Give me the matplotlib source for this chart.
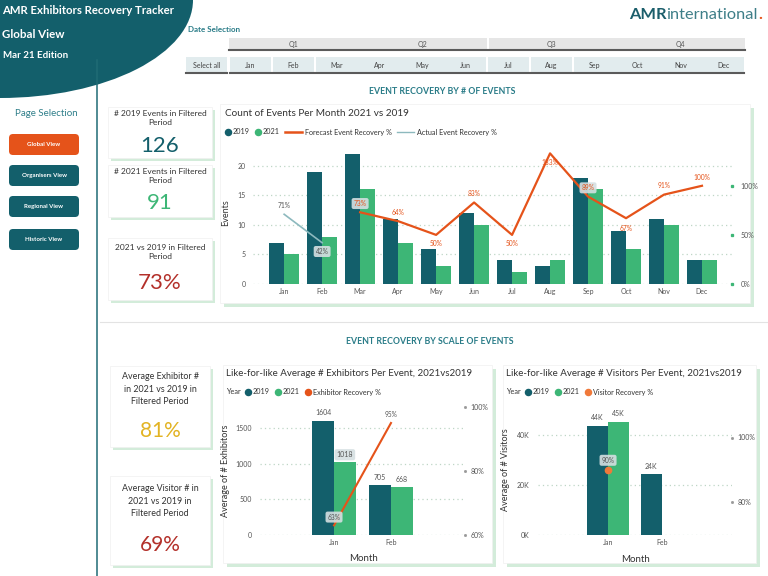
import numpy as np
import matplotlib
matplotlib.use('Agg')
import matplotlib.pyplot as plt
from matplotlib.patches import Rectangle, FancyBboxPatch, Ellipse

plt.rcParams['font.family'] = ['Lato', 'DejaVu Sans']

# --- datos ---
months = ['Jan', 'Feb', 'Mar', 'Apr', 'May', 'Jun', 'Jul', 'Aug', 'Sep', 'Oct', 'Nov', 'Dec']
quarters = ['Q1', 'Q2', 'Q3', 'Q4']
events_2019 = [7, 19, 22, 11, 6, 12, 4, 3, 18, 9, 11, 4]
events_2021 = [5, 8, 16, 7, 3, 10, 2, 4, 16, 6, 10, 4]
actual_months = ['Jan', 'Feb']
actual_recovery = [0.71, 0.42]
forecast_months = ['Mar', 'Apr', 'May', 'Jun', 'Jul', 'Aug', 'Sep', 'Oct', 'Nov', 'Dec']
forecast_recovery = [0.73, 0.64, 0.50, 0.83, 0.50, 1.33, 0.89, 0.67, 0.91, 1.00]
kpi_recovery = 0.73
kpi_exhibitor = 0.81
kpi_visitor = 0.69

scale_months = ['Jan', 'Feb']
exhibitors_2019 = [1604, 705]
exhibitors_2021 = [1018, 668]
exhibitor_recovery = [0.63, 0.95]
visitors_2019 = [43800, 24300]
visitors_2021 = [45400, np.nan]
visitor_recovery_months = ['Jan']
visitor_recovery = [0.90]

pages = ['Global View', 'Organisers View', 'Regional View', 'Historic View']

# --- colores ---
TEAL = '#135F6B'
GREEN = '#3DB676'
ORANGE = '#E5531A'
RED = '#B3302A'
GOLD = '#E2B323'
HEAD = '#2A7C88'
GRID = '#BFD6C6'
TXT = '#333333'
SHADOW = '#D3ECDA'
LBLBOX = dict(boxstyle='round,pad=0.3', fc='#D5DFE1', ec='none', alpha=0.9)

fig = plt.figure(figsize=(7.68, 5.76), dpi=100)
bg = fig.add_axes([0, 0, 1, 1])
bg.set_xlim(0, 768)
bg.set_ylim(576, 0)
bg.axis('off')
renderer = fig.canvas.get_renderer()


def px_axes(left, top, right, bottom):
    a = fig.add_axes([left / 768, 1 - bottom / 576, (right - left) / 768, (bottom - top) / 576])
    a.patch.set_alpha(0)
    return a


def panel(x0, y0, x1, y1, off=4):
    bg.add_patch(Rectangle((x0 + off, y0 + off), x1 - x0, y1 - y0, fc=SHADOW, ec='none'))
    bg.add_patch(Rectangle((x0, y0), x1 - x0, y1 - y0, fc='white', ec='#F0F0F0', lw=0.5))


def legend_row(x, y, items, fs=5.2):
    for kind, color, label in items:
        if kind == 'dot':
            bg.plot(x + 3, y, 'o', ms=4.4, color=color)
            x += 8
        elif kind == 'line':
            bg.plot([x, x + 17], [y, y], color=color, lw=1.8 if color == ORANGE else 1.0)
            x += 20
        t = bg.text(x, y, label, fontsize=fs, va='center', ha='left', color=TXT)
        x += t.get_window_extent(renderer).width + 5


def style_axes(a, size=5):
    for s in a.spines.values():
        s.set_visible(False)
    a.tick_params(axis='both', length=0, labelsize=size, colors='#555555')


# --- cabecera / barra lateral ---
bg.add_patch(Ellipse((0, 0), 386, 196, fc=TEAL, ec='none'))
bg.plot([97, 97], [60, 576], color='#1F6B75', lw=1.1)
bg.text(2, 10, 'AMR Exhibitors Recovery Tracker', fontsize=8.2, fontweight='bold', color='white', va='center')
bg.text(2, 35, 'Global View', fontsize=8.3, fontweight='bold', color='white', va='center')
bg.text(3, 55, 'Mar 21 Edition', fontsize=7, fontweight='bold', color='white', va='center')

bg.text(46, 113, 'Page Selection', fontsize=7, color='#2F7F8A', ha='center', va='center')
btn_top = [132, 163, 194, 227]
for i, (name, yt) in enumerate(zip(pages, btn_top)):
    bg.add_patch(FancyBboxPatch((9, yt + 2), 70, 21, boxstyle='round,pad=0,rounding_size=4',
                                fc=ORANGE if i == 0 else TEAL, ec='none'))
    bg.text(44, yt + 12.5, name, fontsize=4.4, fontweight='bold', color='white', ha='center', va='center')

# logo
t = bg.text(629, 15, 'AMR', fontsize=11.8, fontweight='bold', color='#1B5E6B', va='center')
xx = 629 + t.get_window_extent(renderer).width
t = bg.text(xx, 15, 'international', fontsize=11.8, color='#3E7E88', va='center')
xx += t.get_window_extent(renderer).width
bg.text(xx, 15, '.', fontsize=11.8, fontweight='bold', color=ORANGE, va='center')

# selector de fechas
bg.text(188, 29, 'Date Selection', fontsize=5.8, fontweight='bold', color=HEAD, va='center')
cell = 43
mx0 = 229
for q0, q1, qs in [(0, 6, quarters[:2]), (6, 12, quarters[2:])]:
    xa, xb = mx0 + q0 * cell + (2 if q0 else 0), mx0 + q1 * cell
    bg.add_patch(Rectangle((xa, 38), xb - xa, 11, fc='#E6E6E6', ec='none'))
    bg.plot([xa, xb], [50, 50], color='#5A5A5A', lw=1.5)
    for k, q in enumerate(qs):
        bg.text(mx0 + (q0 + 1.5 + 3 * k) * cell, 44.5, q, fontsize=5, color='#555555',
                ha='center', va='center_baseline')
bg.add_patch(Rectangle((186, 57), 41, 15, fc='#E2ECEE', ec='none'))
bg.plot([186, 227], [73, 73], color='#5A5A5A', lw=1.5)
bg.text(206.5, 65, 'Select all', fontsize=5, color='#444444', ha='center', va='center_baseline')
for g in [[0], [1], [2, 3, 4, 5], [6], [7], [8, 9, 10, 11]]:
    xa, xb = mx0 + g[0] * cell + 1, mx0 + (g[-1] + 1) * cell - 1
    bg.add_patch(Rectangle((xa, 57), xb - xa, 15, fc='#E2ECEE', ec='none'))
    bg.plot([xa, xb], [73, 73], color='#5A5A5A', lw=1.5)
for i, m in enumerate(months):
    bg.text(mx0 + (i + 0.5) * cell, 65, m, fontsize=5, color='#444444', ha='center', va='center_baseline')

# titulos de seccion
bg.text(442, 92, 'EVENT RECOVERY BY # OF EVENTS', fontsize=6.3, fontweight='bold', color=HEAD, ha='center', va='center')
bg.text(430, 342, 'EVENT RECOVERY BY SCALE OF EVENTS', fontsize=6.3, fontweight='bold', color=HEAD, ha='center', va='center')
bg.plot([100, 768], [322, 322], color='#E3E3E3', lw=0.8)

# tarjetas KPI
kpis = [
    ((108, 107, 212, 158), '# 2019 Events in Filtered\nPeriod', 118, f'{sum(events_2019)}', TEAL, 146, 16),
    ((108, 165, 212, 217), '# 2021 Events in Filtered\nPeriod', 176, f'{sum(events_2021)}', GREEN, 203, 16),
    ((108, 238, 212, 300), '2021 vs 2019 in Filtered\nPeriod', 252, f'{kpi_recovery:.0%}', RED, 283, 16),
    ((110, 366, 210, 447), 'Average Exhibitor #\nin 2021 vs 2019 in\nFiltered Period', 389, f'{kpi_exhibitor:.0%}', GOLD, 431, 15),
    ((110, 476, 210, 565), 'Average Visitor # in\n2021 vs 2019 in\nFiltered Period', 501, f'{kpi_visitor:.0%}', RED, 545, 15),
]
for (x0, y0, x1, y1), title, ty, val, col, vy, vs in kpis:
    panel(x0, y0, x1, y1, off=3)
    fs = 6.0 if title.count('\n') == 1 else 6.4
    bg.text((x0 + x1) / 2, ty, title, fontsize=fs, color=TXT, ha='center', va='center', linespacing=1.45)
    bg.text((x0 + x1) / 2, vy, val, fontsize=vs, color=col, ha='center', va='center')

# --- grafico principal ---
panel(220, 104, 750, 303)
bg.text(225, 114, 'Count of Events Per Month 2021 vs 2019', fontsize=7.2, color=TXT, va='center')
legend_row(225, 132, [('dot', TEAL, '2019'), ('dot', GREEN, '2021'),
                      ('line', ORANGE, 'Forecast Event Recovery %'),
                      ('line', '#8DB9BE', 'Actual Event Recovery %')])

ax = px_axes(253, 142, 732, 284)
x = np.arange(len(months))
ax.bar(x - 0.2, events_2019, 0.4, color=TEAL, zorder=2)
ax.bar(x + 0.2, events_2021, 0.4, color=GREEN, zorder=2)
ax.set_xlim(-0.82, 11.79)
ax.set_ylim(0, 24)
ax.set_yticks([0, 5, 10, 15, 20])
ax.set_xticks(x)
ax.set_xticklabels(months)
ax.yaxis.grid(True, linestyle=(0, (1, 2.5)), color=GRID, lw=0.9)
ax.set_axisbelow(True)
style_axes(ax)
ax.tick_params(axis='y', pad=5)
ax.tick_params(axis='x', pad=3)
ax.set_ylabel('Events', fontsize=6.5, color=TXT)
ax.yaxis.set_label_coords(-0.048, 0.5)

ax2 = ax.twinx()
ax2.patch.set_alpha(0)
fx = [months.index(m) for m in forecast_months]
axx = [months.index(m) for m in actual_months]
ax2.plot(fx, forecast_recovery, color=ORANGE, lw=1.6, zorder=3)
ax2.plot(axx, actual_recovery, color='#8DB9BE', lw=1.2, zorder=3)
fpos = [1, 1, -1, 1, -1, -1.1, 1, -1.2, 1, 1]
for xi, v, p in zip(fx, forecast_recovery, fpos):
    t = ax2.annotate(f'{v:.0%}', (xi, v), xytext=(0, 6.3 * p), textcoords='offset points',
                     ha='center', va='center', fontsize=4.8, color=ORANGE)
    if xi in (2, 8):
        t.set_bbox(LBLBOX)
for xi, v, p in zip(axx, actual_recovery, [1, -1]):
    t = ax2.annotate(f'{v:.0%}', (xi, v), xytext=(0, 6.3 * p), textcoords='offset points',
                     ha='center', va='center', fontsize=4.8, color='#555555')
    if p < 0:
        t.set_bbox(LBLBOX)
ax2.set_ylim(0, 24 / 16.6)
ax2.set_yticks([0, 0.5, 1.0])
ax2.set_yticklabels(['0%', '50%', '100%'])
style_axes(ax2)
ax2.tick_params(axis='y', pad=6)
ax2.plot([1, 1, 1], [0, 0.5, 1.0], 's', ms=1.4, color=GREEN, transform=ax2.get_yaxis_transform(), clip_on=False)

# --- expositores ---
panel(223, 365, 492, 563)
bg.text(226, 374, 'Like-for-like Average # Exhibitors Per Event, 2021vs2019', fontsize=7.0, color=TXT, va='center')
t = bg.text(226, 392, 'Year', fontsize=5.2, color=TXT, va='center')
legend_row(226 + t.get_window_extent(renderer).width + 4, 392,
           [('dot', TEAL, '2019'), ('dot', GREEN, '2021'), ('dot', ORANGE, 'Exhibitor Recovery %')])

axe = px_axes(260, 407, 465, 535)
xb = np.arange(len(scale_months))
b1 = axe.bar(xb - 0.19, exhibitors_2019, 0.38, color=TEAL, zorder=2)
b2 = axe.bar(xb + 0.19, exhibitors_2021, 0.38, color=GREEN, zorder=2)
axe.bar_label(b1, fontsize=5, color='#555555', padding=3)
lb = axe.bar_label(b2, fontsize=5, color='#555555', padding=3)
lb[0].set_bbox(LBLBOX)
axe.set_xlim(-1.3, 2.3)
axe.set_ylim(0, 1795)
axe.set_yticks([0, 500, 1000, 1500])
axe.set_xticks(xb)
axe.set_xticklabels(scale_months)
axe.yaxis.grid(True, linestyle=(0, (1, 2.5)), color=GRID, lw=0.9)
axe.set_axisbelow(True)
style_axes(axe)
axe.tick_params(axis='y', pad=6)
axe.tick_params(axis='x', pad=3)
axe.set_ylabel('Average of # Exhibitors', fontsize=6.5, color=TXT)
axe.yaxis.set_label_coords(-0.148, 0.5)
axe.set_xlabel('Month', fontsize=7, color=TXT)
axe.xaxis.set_label_coords(0.507, -0.15)

axe2 = axe.twinx()
axe2.patch.set_alpha(0)
axe2.plot(xb, exhibitor_recovery, color=ORANGE, lw=1.5, zorder=3)
for xi, v in zip(xb, exhibitor_recovery):
    t = axe2.annotate(f'{v:.0%}', (xi, v), xytext=(0, 6), textcoords='offset points',
                      ha='center', va='center', fontsize=4.8, color='#555555')
    if xi == 0:
        t.set_bbox(LBLBOX)
axe2.set_ylim(0.6, 1.0)
axe2.set_yticks([0.6, 0.8, 1.0])
axe2.set_yticklabels(['60%', '80%', '100%'])
style_axes(axe2)
axe2.tick_params(axis='y', pad=4)
axe2.plot([1, 1, 1], [0.6, 0.8, 1.0], 's', ms=1.0, color='#999999', transform=axe2.get_yaxis_transform(), clip_on=False)

# --- visitantes ---
panel(503, 365, 756, 563)
bg.text(506, 374, 'Like-for-like Average # Visitors Per Event, 2021vs2019', fontsize=7.0, color=TXT, va='center')
t = bg.text(506, 392, 'Year', fontsize=5.2, color=TXT, va='center')
legend_row(506 + t.get_window_extent(renderer).width + 4, 392,
           [('dot', TEAL, '2019'), ('dot', GREEN, '2021'), ('dot', '#F0793A', 'Visitor Recovery %')])

axv = px_axes(538, 405, 732, 535)
v19 = np.array(visitors_2019, dtype=float)
v21 = np.array(visitors_2021, dtype=float)
ok = ~np.isnan(v21)
c1 = axv.bar(xb - 0.195, v19, 0.39, color=TEAL, zorder=2)
c2 = axv.bar(xb[ok] + 0.195, v21[ok], 0.39, color=GREEN, zorder=2)
axv.bar_label(c1, labels=[f'{v / 1000:.0f}K' for v in v19], fontsize=5, color='#555555', padding=3)
axv.bar_label(c2, labels=[f'{v / 1000:.0f}K' for v in v21[ok]], fontsize=5, color='#555555', padding=3)
axv.set_xlim(-1.3, 2.3)
axv.set_ylim(0, 52000)
axv.set_yticks([0, 20000, 40000])
axv.set_yticklabels(['0K', '20K', '40K'])
axv.set_xticks(xb)
axv.set_xticklabels(scale_months)
axv.yaxis.grid(True, linestyle=(0, (1, 2.5)), color=GRID, lw=0.9)
axv.set_axisbelow(True)
style_axes(axv)
axv.tick_params(axis='y', pad=6)
axv.tick_params(axis='x', pad=3)
axv.set_ylabel('Average of # Visitors', fontsize=6.5, color=TXT)
axv.yaxis.set_label_coords(-0.144, 0.5)
axv.set_xlabel('Month', fontsize=7, color=TXT)
axv.xaxis.set_label_coords(0.5, -0.15)

axv2 = axv.twinx()
axv2.patch.set_alpha(0)
vx = [scale_months.index(m) for m in visitor_recovery_months]
axv2.plot(vx, visitor_recovery, 'o', ms=4.5, color='#F0793A', zorder=3)
for xi, v in zip(vx, visitor_recovery):
    axv2.annotate(f'{v:.0%}', (xi, v), xytext=(0, 7), textcoords='offset points',
                  ha='center', va='center', fontsize=4.8, color='#555555', bbox=LBLBOX)
axv2.set_ylim(0.70, 1.10)
axv2.set_yticks([0.8, 1.0])
axv2.set_yticklabels(['80%', '100%'])
style_axes(axv2)
axv2.tick_params(axis='y', pad=4)
axv2.plot([1, 1], [0.8, 1.0], 's', ms=1.0, color='#999999', transform=axv2.get_yaxis_transform(), clip_on=False)

fig.savefig('out.png', dpi=100)
